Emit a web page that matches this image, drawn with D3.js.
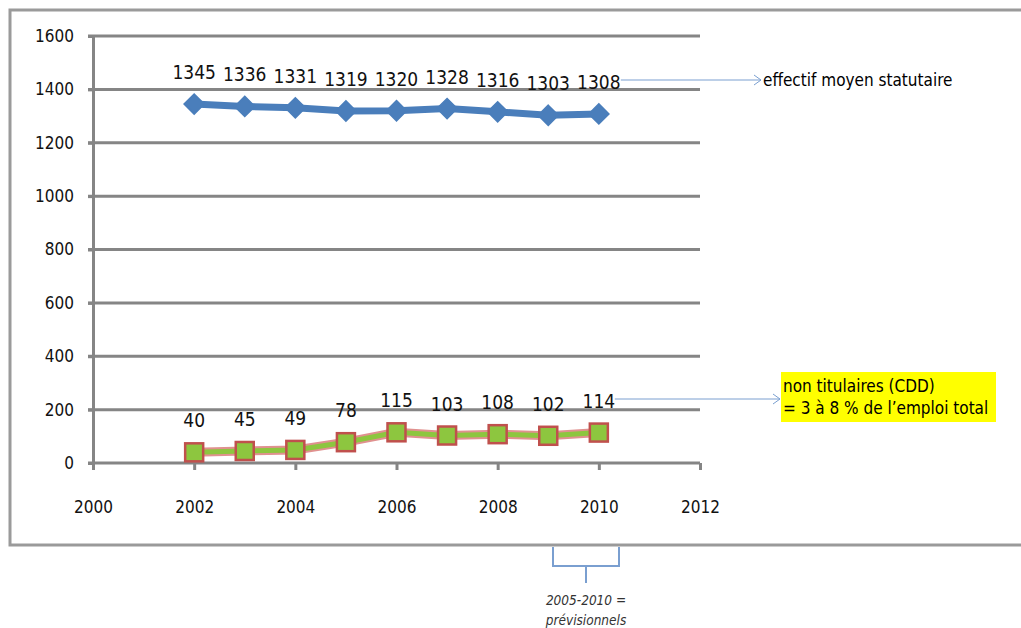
<!DOCTYPE html>
<html><head><meta charset="utf-8">
<script src="https://cdn.jsdelivr.net/npm/d3@7"></script>
<style>body{margin:0;background:#fff}svg{display:block}</style>
</head><body><svg id="c" width="1021" height="628"></svg>
<script>
const years = [2002, 2003, 2004, 2005, 2006, 2007, 2008, 2009, 2010];
const statutaires = [1345, 1336, 1331, 1319, 1320, 1328, 1316, 1303, 1308];
const nonTitulaires = [40, 45, 49, 78, 115, 103, 108, 102, 114];
const yTicks = [0, 200, 400, 600, 800, 1000, 1200, 1400, 1600];
const xTicks = [2000, 2002, 2004, 2006, 2008, 2010, 2012];
const label1 = "effectif moyen statutaire";
const label2 = ["non titulaires (CDD)", "= 3 à 8 % de l’emploi total"];
const note = ["2005-2010 =", "prévisionnels"];

const svg = d3.select("#c");
const font = "'DejaVu Sans Condensed','Liberation Sans',sans-serif";
const x = d3.scaleLinear().domain([2000, 2012]).range([93, 700]);
const y = d3.scaleLinear().domain([0, 1600]).range([463, 36]);

// outer frame
svg.append("rect").attr("x", 10).attr("y", 10).attr("width", 1030).attr("height", 535)
  .attr("fill", "none").attr("stroke", "#9a9a9a").attr("stroke-width", 3);

// gridlines
svg.append("g").selectAll("line").data(yTicks.filter(d => d > 0)).join("line")
  .attr("x1", 88).attr("x2", 700).attr("y1", d => y(d)).attr("y2", d => y(d))
  .attr("stroke", "#858585").attr("stroke-width", 3);

// y axis
const ya = svg.append("g").attr("transform", "translate(93,0)")
  .call(d3.axisLeft(y).tickValues(yTicks).tickFormat(d3.format("d")).tickSize(5).tickPadding(14));
ya.select(".domain").attr("stroke", "#858585").attr("stroke-width", 3);
ya.selectAll(".tick line").attr("stroke", "#858585").attr("stroke-width", 3);
ya.selectAll("text").attr("font-family", font).attr("font-size", 17).attr("fill", "#111");

// x axis
const xa = svg.append("g").attr("transform", "translate(0,463)")
  .call(d3.axisBottom(x).tickValues(xTicks).tickFormat(d3.format("d")).tickSize(7).tickPadding(31).tickSizeOuter(0));
xa.select(".domain").attr("stroke", "#858585").attr("stroke-width", 3).attr("d", "M88,0H700");
xa.selectAll(".tick line").attr("stroke", "#858585").attr("stroke-width", 3);
xa.selectAll("text").attr("font-family", font).attr("font-size", 17).attr("fill", "#111");

const line = d3.line().x((d, i) => x(years[i])).y(d => y(d));

// blue series
svg.append("path").datum(statutaires).attr("d", line).attr("fill", "none")
  .attr("stroke", "#4a7ebb").attr("stroke-width", 7);
svg.append("g").selectAll("path").data(statutaires).join("path")
  .attr("transform", (d, i) => `translate(${x(years[i])},${y(d)})`)
  .attr("d", d3.symbol(d3.symbolDiamond2, 260)).attr("fill", "#4a7ebb")
  .attr("stroke", "#4a7ebb").attr("stroke-width", 1.5);
svg.append("g").selectAll("text").data(statutaires).join("text")
  .attr("x", (d, i) => x(years[i])).attr("y", d => y(d) - 25)
  .attr("text-anchor", "middle").attr("font-family", font).attr("font-size", 19).attr("fill", "#111")
  .text(d => d);

// green series
svg.append("path").datum(nonTitulaires).attr("d", line).attr("fill", "none")
  .attr("stroke", "#e0918f").attr("stroke-width", 9);
svg.append("path").datum(nonTitulaires).attr("d", line).attr("fill", "none")
  .attr("stroke", "#8dc63f").attr("stroke-width", 5);
svg.append("g").selectAll("rect").data(nonTitulaires).join("rect")
  .attr("x", (d, i) => x(years[i]) - 9).attr("y", d => y(d) - 9)
  .attr("width", 18).attr("height", 18).attr("fill", "#8dc63f")
  .attr("stroke", "#c0504d").attr("stroke-width", 2.5);
svg.append("g").selectAll("text").data(nonTitulaires).join("text")
  .attr("x", (d, i) => x(years[i])).attr("y", d => y(d) - 25)
  .attr("text-anchor", "middle").attr("font-family", font).attr("font-size", 19).attr("fill", "#111")
  .text(d => d);

// annotation arrows
function arrow(x1, yy, x2) {
  svg.append("line").attr("x1", x1).attr("x2", x2).attr("y1", yy).attr("y2", yy)
    .attr("stroke", "#7a9fd0").attr("stroke-width", 1);
  svg.append("path").attr("d", `M${x2 - 7},${yy - 5}L${x2},${yy}L${x2 - 7},${yy + 5}`)
    .attr("fill", "none").attr("stroke", "#7a9fd0").attr("stroke-width", 1);
}
arrow(x(2010) + 22, 80, 761);
svg.append("text").attr("x", 763).attr("y", 86).attr("font-family", font).attr("font-size", 17)
  .attr("fill", "#000").text(label1);

arrow(x(2010) + 16, 399, 780);
svg.append("rect").attr("x", 781).attr("y", 372).attr("width", 215).attr("height", 50).attr("fill", "#ffff00");
svg.append("g").selectAll("text").data(label2).join("text")
  .attr("x", 783).attr("y", (d, i) => 392 + i * 22).attr("font-family", font).attr("font-size", 17)
  .attr("fill", "#000").text(d => d);

// bracket
svg.append("path").attr("d", "M553,547V566H619V547M586,566V583")
  .attr("fill", "none").attr("stroke", "#7a9fd0").attr("stroke-width", 2);
svg.append("g").selectAll("text").data(note).join("text")
  .attr("x", 586).attr("y", (d, i) => 605 + i * 20).attr("text-anchor", "middle")
  .attr("font-family", font).attr("font-size", 13.5).attr("font-style", "italic").attr("fill", "#333")
  .text(d => d);
</script></body></html>
